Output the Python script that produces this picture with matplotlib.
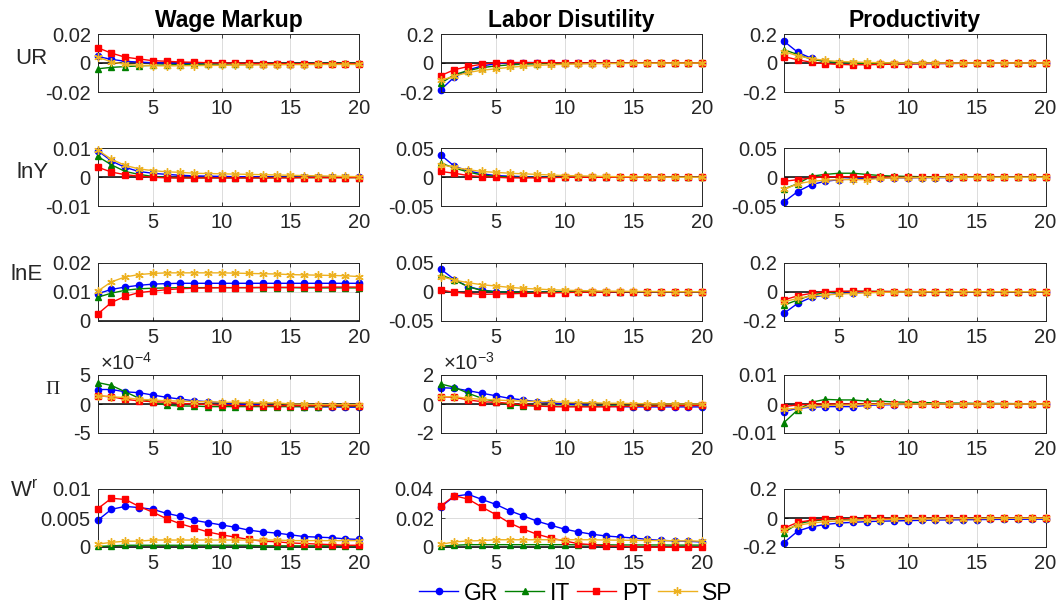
import numpy as np
import matplotlib
matplotlib.use('Agg')
import matplotlib.pyplot as plt
from matplotlib.ticker import FuncFormatter

plt.rcParams['font.family'] = ['Liberation Sans', 'DejaVu Sans']
plt.rcParams['axes.unicode_minus'] = False
plt.rcParams['mathtext.fontset'] = 'custom'
plt.rcParams['mathtext.rm'] = 'Liberation Sans'
plt.rcParams['mathtext.it'] = 'Liberation Sans:italic'

periods = np.arange(1, 21)
countries = ['GR', 'IT', 'PT', 'SP']
shocks = ['Wage Markup', 'Labor Disutility', 'Productivity']
variables = ['UR', 'lnY', 'lnE', 'Pi', 'Wr']

# ---- UR ----
ur_wm_gr = [0.0045, 0.0025, 0.0012, 0.0006, 0.0002, 0.0, -0.0002, -0.0003, -0.0004, -0.0005,
            -0.0005, -0.0005, -0.0005, -0.0005, -0.0005, -0.0005, -0.0005, -0.0005, -0.0005, -0.0005]
ur_wm_it = [-0.0040, -0.0030, -0.0025, -0.0020, -0.0016, -0.0013, -0.0011, -0.0009, -0.0008, -0.0007,
            -0.0006, -0.0005, -0.0005, -0.0004, -0.0004, -0.0004, -0.0004, -0.0003, -0.0003, -0.0003]
ur_wm_pt = [0.0105, 0.0068, 0.0040, 0.0028, 0.0016, 0.0012, 0.0007, 0.0005, 0.0002, 0.0,
            -0.0002, -0.0003, -0.0004, -0.0004, -0.0005, -0.0005, -0.0005, -0.0005, -0.0005, -0.0005]
ur_wm_sp = [0.0040, 0.0008, -0.0010, -0.0016, -0.0019, -0.0020, -0.0019, -0.0018, -0.0017, -0.0016,
            -0.0015, -0.0014, -0.0013, -0.0012, -0.0011, -0.0011, -0.0010, -0.0010, -0.0010, -0.0010]

ur_ld_gr = [-0.185, -0.096, -0.048, -0.020, -0.005, 0.002, 0.003, 0.003, 0.002, 0.002,
            0.001, 0.001, 0.001, 0.0, 0.0, 0.0, 0.0, 0.0, 0.0, 0.0]
ur_ld_it = [-0.140, -0.080, -0.052, -0.032, -0.020, -0.013, -0.008, -0.005, -0.003, -0.002,
            -0.001, 0.0, 0.0, 0.0, 0.0, 0.0, 0.0, 0.0, 0.0, 0.0]
ur_ld_pt = [-0.087, -0.046, -0.024, -0.008, 0.002, 0.003, 0.003, 0.002, 0.002, 0.001,
            0.001, 0.0, 0.0, 0.0, 0.0, 0.0, 0.0, 0.0, 0.0, 0.0]
ur_ld_sp = [-0.120, -0.090, -0.065, -0.050, -0.040, -0.030, -0.022, -0.017, -0.012, -0.009,
            -0.007, -0.005, -0.004, -0.003, -0.002, -0.002, -0.001, -0.001, -0.001, 0.0]

ur_pr_gr = [0.150, 0.074, 0.032, 0.010, 0.0, -0.005, -0.008, -0.008, -0.007, -0.006,
            -0.005, -0.004, -0.003, -0.002, -0.002, -0.001, -0.001, -0.001, 0.0, 0.0]
ur_pr_it = [0.092, 0.058, 0.026, 0.010, 0.002, -0.002, -0.003, -0.003, -0.003, -0.002,
            -0.002, -0.001, -0.001, 0.0, 0.0, 0.0, 0.0, 0.0, 0.0, 0.0]
ur_pr_pt = [0.044, 0.022, 0.005, -0.005, -0.010, -0.012, -0.012, -0.010, -0.008, -0.006,
            -0.005, -0.004, -0.003, -0.002, -0.002, -0.001, -0.001, 0.0, 0.0, 0.0]
ur_pr_sp = [0.078, 0.050, 0.030, 0.018, 0.010, 0.007, 0.004, 0.002, 0.001, 0.0,
            0.0, 0.0, 0.0, 0.0, 0.0, 0.0, 0.0, 0.0, 0.0, 0.0]

# ---- lnY ----
lny_wm_gr = [0.0092, 0.0056, 0.0034, 0.0020, 0.0014, 0.0010, 0.0007, 0.0005, 0.0004, 0.0003,
             0.0002, 0.0002, 0.0001, 0.0001, 0.0001, 0.0, 0.0, 0.0, 0.0, 0.0]
lny_wm_it = [0.0072, 0.0043, 0.0020, 0.0010, 0.0003, -0.0001, -0.0002, -0.0002, -0.0002, -0.0002,
             -0.0002, -0.0002, -0.0002, -0.0001, -0.0001, -0.0001, -0.0001, -0.0001, -0.0001, -0.0001]
lny_wm_pt = [0.0035, 0.0018, 0.0009, 0.0004, 0.0, -0.0002, -0.0002, -0.0002, -0.0002, -0.0002,
             -0.0002, -0.0002, -0.0002, -0.0002, -0.0002, -0.0001, -0.0001, -0.0001, -0.0001, -0.0001]
lny_wm_sp = [0.0094, 0.0062, 0.0041, 0.0029, 0.0023, 0.0019, 0.0017, 0.0014, 0.0013, 0.0012,
             0.0011, 0.0010, 0.0009, 0.0008, 0.0007, 0.0006, 0.0005, 0.0004, 0.0003, 0.0002]

lny_ld_gr = [0.0386, 0.019, 0.011, 0.006, 0.003, 0.002, 0.001, 0.0005, 0.0, 0.0,
             0.0, 0.0, 0.0, 0.0, 0.0, 0.0, 0.0, 0.0, 0.0, 0.0]
lny_ld_it = [0.0245, 0.016, 0.009, 0.004, 0.0015, 0.0005, 0.0, 0.0, 0.0, 0.0,
             0.0, 0.0, 0.0, 0.0, 0.0, 0.0, 0.0, 0.0, 0.0, 0.0]
lny_ld_pt = [0.010, 0.007, 0.003, 0.001, 0.0, -0.001, -0.001, -0.001, -0.0005, 0.0,
             0.0, 0.0, 0.0, 0.0, 0.0, 0.0, 0.0, 0.0, 0.0, 0.0]
lny_ld_sp = [0.022, 0.017, 0.013, 0.010, 0.0085, 0.007, 0.006, 0.005, 0.004, 0.003,
             0.0025, 0.002, 0.0015, 0.001, 0.001, 0.0005, 0.0005, 0.0, 0.0, 0.0]

lny_pr_gr = [-0.0425, -0.0245, -0.0125, -0.007, -0.004, -0.003, -0.002, -0.0015, -0.001, -0.001,
             -0.0005, -0.0005, -0.0005, 0.0, 0.0, 0.0, 0.0, 0.0, 0.0, 0.0]
lny_pr_it = [-0.020, -0.011, 0.002, 0.005, 0.007, 0.007, 0.005, 0.003, 0.002, 0.0015,
             0.001, 0.001, 0.0005, 0.0005, 0.0, 0.0, 0.0, 0.0, 0.0, 0.0]
lny_pr_pt = [-0.007, -0.004, -0.001, 0.001, 0.001, 0.001, 0.001, 0.0005, 0.0, 0.0,
             0.0, 0.0, 0.0, 0.0, 0.0, 0.0, 0.0, 0.0, 0.0, 0.0]
lny_pr_sp = [-0.021, -0.011, -0.007, -0.005, -0.004, -0.004, -0.004, -0.002, -0.001, -0.001,
             -0.0005, -0.0005, 0.0, 0.0, 0.0, 0.0, 0.0, 0.0, 0.0, 0.0]

# ---- lnE ----
lne_wm_gr = [0.0093, 0.0108, 0.0116, 0.0122, 0.0126, 0.0128, 0.0129, 0.0129, 0.0129, 0.0129,
             0.0129, 0.0129, 0.0129, 0.0129, 0.0129, 0.0129, 0.0129, 0.0129, 0.0129, 0.0129]
lne_wm_it = [0.0081, 0.0095, 0.0105, 0.0110, 0.0112, 0.0113, 0.0114, 0.0114, 0.0114, 0.0114,
             0.0114, 0.0114, 0.0114, 0.0114, 0.0114, 0.0113, 0.0113, 0.0113, 0.0113, 0.0113]
lne_wm_pt = [0.0023, 0.0063, 0.0084, 0.0097, 0.0102, 0.0107, 0.0110, 0.0112, 0.0113, 0.0114,
             0.0114, 0.0114, 0.0115, 0.0115, 0.0115, 0.0115, 0.0115, 0.0116, 0.0116, 0.0116]
lne_wm_sp = [0.0102, 0.0134, 0.0151, 0.0159, 0.0163, 0.0165, 0.0165, 0.0165, 0.0165, 0.0165,
             0.0164, 0.0163, 0.0162, 0.0161, 0.0159, 0.0158, 0.0157, 0.0156, 0.0155, 0.0152]

lne_ld_gr = [0.039, 0.021, 0.0086, 0.003, 0.0, -0.001, -0.001, -0.001, -0.0008, -0.0005,
             -0.0003, 0.0, 0.0, 0.0, 0.0, 0.0, 0.0, 0.0, 0.0, 0.0]
lne_ld_it = [0.029, 0.020, 0.0086, 0.002, 0.0, -0.001, -0.001, -0.0008, -0.0005, -0.0003,
             0.0, 0.0, 0.0, 0.0, 0.0, 0.0, 0.0, 0.0, 0.0, 0.0]
lne_ld_pt = [0.003, -0.001, -0.003, -0.0046, -0.004, -0.0035, -0.003, -0.0025, -0.002, -0.0015,
             -0.001, -0.0008, -0.0005, -0.0003, 0.0, 0.0, 0.0, 0.0, 0.0, 0.0]
lne_ld_sp = [0.026, 0.020, 0.0155, 0.012, 0.0098, 0.0075, 0.0057, 0.0046, 0.0034, 0.0025,
             0.002, 0.0015, 0.001, 0.0008, 0.0005, 0.0003, 0.0002, 0.0, 0.0, 0.0]

lne_pr_gr = [-0.149, -0.080, -0.039, -0.023, -0.012, -0.006, -0.004, -0.002, -0.001, 0.0,
             0.0, 0.0, 0.0, 0.0, 0.0, 0.0, 0.0, 0.0, 0.0, 0.0]
lne_pr_it = [-0.092, -0.057, -0.023, -0.007, 0.0, 0.003, 0.003, 0.002, 0.001, 0.001,
             0.0, 0.0, 0.0, 0.0, 0.0, 0.0, 0.0, 0.0, 0.0, 0.0]
lne_pr_pt = [-0.057, -0.028, -0.011, 0.0, 0.003, 0.003, 0.002, 0.001, 0.001, 0.0,
             0.0, 0.0, 0.0, 0.0, 0.0, 0.0, 0.0, 0.0, 0.0, 0.0]
lne_pr_sp = [-0.069, -0.046, -0.030, -0.023, -0.016, -0.012, -0.008, -0.005, -0.003, -0.002,
             -0.001, 0.0, 0.0, 0.0, 0.0, 0.0, 0.0, 0.0, 0.0, 0.0]

# ---- Pi (wage markup in 1e-4, labor disutility in 1e-3) ----
pi_wm_gr = [2.5, 2.5, 2.1, 1.95, 1.55, 1.15, 0.85, 0.55, 0.4, 0.2,
            0.0, -0.1, -0.2, -0.3, -0.4, -0.45, -0.5, -0.5, -0.55, -0.55]
pi_wm_it = [3.7, 3.2, 2.1, 1.0, 0.3, -0.2, -0.35, -0.35, -0.45, -0.45,
            -0.45, -0.45, -0.45, -0.45, -0.45, -0.45, -0.45, -0.4, -0.4, -0.4]
pi_wm_pt = [1.4, 1.25, 0.8, 0.55, 0.4, 0.3, 0.1, 0.0, -0.1, -0.2,
            -0.25, -0.3, -0.3, -0.3, -0.3, -0.3, -0.3, -0.3, -0.3, -0.3]
pi_wm_sp = [1.4, 1.25, 1.1, 0.8, 0.7, 0.55, 0.5, 0.4, 0.4, 0.3,
            0.3, 0.2, 0.2, 0.2, 0.0, -0.05, -0.1, -0.1, -0.1, -0.1]

pi_ld_gr = [1.13, 1.08, 0.92, 0.74, 0.57, 0.39, 0.28, 0.16, 0.09, 0.0,
            -0.05, -0.1, -0.15, -0.18, -0.2, -0.2, -0.2, -0.2, -0.2, -0.2]
pi_ld_it = [1.38, 1.15, 0.74, 0.39, 0.16, -0.07, -0.11, -0.14, -0.15, -0.15,
            -0.15, -0.15, -0.14, -0.13, -0.12, -0.12, -0.11, -0.1, -0.1, -0.1]
pi_ld_pt = [0.5, 0.46, 0.28, 0.16, 0.11, 0.05, -0.07, -0.14, -0.18, -0.2,
            -0.2, -0.2, -0.2, -0.18, -0.16, -0.15, -0.14, -0.12, -0.11, -0.1]
pi_ld_sp = [0.5, 0.5, 0.39, 0.32, 0.28, 0.23, 0.2, 0.16, 0.16, 0.12,
            0.09, 0.09, 0.05, 0.05, 0.03, 0.02, 0.0, 0.0, 0.0, 0.0]

pi_pr_gr = [-0.0026, -0.0015, -0.0011, -0.0009, -0.0009, -0.0009, -0.0005, -0.0003, -0.0002, -0.0001,
            0.0, 0.0, 0.0, 0.0, 0.0, 0.0, 0.0, 0.0, 0.0, 0.0]
pi_pr_it = [-0.0064, -0.0020, 0.0006, 0.0016, 0.0014, 0.0014, 0.0010, 0.0010, 0.0007, 0.0006,
            0.0005, 0.0004, 0.0003, 0.0003, 0.0002, 0.0002, 0.0002, 0.0001, 0.0001, 0.0001]
pi_pr_pt = [-0.0009, -0.0003, -0.0001, 0.0, 0.0, 0.0, 0.0, 0.0, 0.0, 0.0,
            0.0, 0.0, 0.0, 0.0, 0.0, 0.0, 0.0, 0.0, 0.0, 0.0]
pi_pr_sp = [-0.0018, -0.0015, -0.0007, -0.0005, -0.0004, -0.0003, -0.0002, -0.0001, 0.0, 0.0,
            0.0, 0.0, 0.0, 0.0, 0.0, 0.0, 0.0, 0.0, 0.0, 0.0]

# ---- real wage ----
wr_wm_gr = [0.0046, 0.0065, 0.0070, 0.0068, 0.0065, 0.0058, 0.0053, 0.0046, 0.0042, 0.0038,
            0.0034, 0.0029, 0.0026, 0.0024, 0.0021, 0.0018, 0.0017, 0.0016, 0.0014, 0.0013]
wr_wm_it = [0.0001, 0.0002, 0.0003, 0.0003, 0.0003, 0.0003, 0.0003, 0.0003, 0.0003, 0.0003,
            0.0003, 0.0003, 0.0002, 0.0002, 0.0002, 0.0002, 0.0002, 0.0002, 0.0002, 0.0002]
wr_wm_pt = [0.0066, 0.0084, 0.0082, 0.0070, 0.0060, 0.0049, 0.0040, 0.0033, 0.0026, 0.0021,
            0.0017, 0.0013, 0.0010, 0.0009, 0.0007, 0.0006, 0.0005, 0.0004, 0.0003, 0.0003]
wr_wm_sp = [0.0005, 0.0008, 0.0010, 0.0010, 0.0012, 0.0012, 0.0012, 0.0012, 0.0012, 0.0012,
            0.0012, 0.0012, 0.0012, 0.0012, 0.0011, 0.0011, 0.0011, 0.0011, 0.0011, 0.0011]

wr_ld_gr = [0.0277, 0.0350, 0.0363, 0.0328, 0.0294, 0.0250, 0.0215, 0.0178, 0.0150, 0.0123,
            0.0104, 0.0088, 0.0076, 0.0069, 0.0062, 0.0053, 0.0046, 0.0042, 0.0039, 0.0035]
wr_ld_it = [0.0005, 0.0012, 0.0016, 0.0016, 0.0016, 0.0016, 0.0016, 0.0016, 0.0016, 0.0016,
            0.0015, 0.0015, 0.0015, 0.0014, 0.0014, 0.0014, 0.0014, 0.0013, 0.0013, 0.0013]
wr_ld_pt = [0.0282, 0.0354, 0.0330, 0.0275, 0.0224, 0.0166, 0.0123, 0.0088, 0.0062, 0.0042,
            0.0023, 0.0016, 0.0007, 0.0005, 0.0001, -0.0001, -0.0002, -0.0002, -0.0002, -0.0002]
wr_ld_sp = [0.0018, 0.0035, 0.0042, 0.0044, 0.0050, 0.0050, 0.0050, 0.0050, 0.0050, 0.0050,
            0.0050, 0.0050, 0.0048, 0.0047, 0.0046, 0.0045, 0.0044, 0.0043, 0.0042, 0.0040]

wr_pr_gr = [-0.170, -0.090, -0.060, -0.045, -0.035, -0.030, -0.025, -0.022, -0.020, -0.018,
            -0.016, -0.014, -0.013, -0.012, -0.011, -0.010, -0.009, -0.009, -0.008, -0.008]
wr_pr_it = [-0.100, -0.040, -0.020, -0.012, -0.008, -0.006, -0.005, -0.004, -0.003, -0.003,
            -0.002, -0.002, -0.002, -0.001, -0.001, -0.001, -0.001, -0.001, -0.001, -0.001]
wr_pr_pt = [-0.070, -0.030, -0.015, -0.008, -0.005, -0.004, -0.003, -0.003, -0.002, -0.002,
            -0.002, -0.001, -0.001, -0.001, -0.001, -0.001, 0.0, 0.0, 0.0, 0.0]
wr_pr_sp = [-0.080, -0.050, -0.035, -0.025, -0.020, -0.016, -0.013, -0.011, -0.009, -0.008,
            -0.007, -0.006, -0.005, -0.004, -0.004, -0.003, -0.003, -0.002, -0.002, -0.002]

# panel grid: rows = variables, cols = shocks
panels = [
    [[ur_wm_gr, ur_wm_it, ur_wm_pt, ur_wm_sp], [ur_ld_gr, ur_ld_it, ur_ld_pt, ur_ld_sp],
     [ur_pr_gr, ur_pr_it, ur_pr_pt, ur_pr_sp]],
    [[lny_wm_gr, lny_wm_it, lny_wm_pt, lny_wm_sp], [lny_ld_gr, lny_ld_it, lny_ld_pt, lny_ld_sp],
     [lny_pr_gr, lny_pr_it, lny_pr_pt, lny_pr_sp]],
    [[lne_wm_gr, lne_wm_it, lne_wm_pt, lne_wm_sp], [lne_ld_gr, lne_ld_it, lne_ld_pt, lne_ld_sp],
     [lne_pr_gr, lne_pr_it, lne_pr_pt, lne_pr_sp]],
    [[pi_wm_gr, pi_wm_it, pi_wm_pt, pi_wm_sp], [pi_ld_gr, pi_ld_it, pi_ld_pt, pi_ld_sp],
     [pi_pr_gr, pi_pr_it, pi_pr_pt, pi_pr_sp]],
    [[wr_wm_gr, wr_wm_it, wr_wm_pt, wr_wm_sp], [wr_ld_gr, wr_ld_it, wr_ld_pt, wr_ld_sp],
     [wr_pr_gr, wr_pr_it, wr_pr_pt, wr_pr_sp]],
]
yticks = [
    [[-0.02, 0, 0.02], [-0.2, 0, 0.2], [-0.2, 0, 0.2]],
    [[-0.01, 0, 0.01], [-0.05, 0, 0.05], [-0.05, 0, 0.05]],
    [[0, 0.01, 0.02], [-0.05, 0, 0.05], [-0.2, 0, 0.2]],
    [[-5, 0, 5], [-2, 0, 2], [-0.01, 0, 0.01]],
    [[0, 0.005, 0.01], [0, 0.02, 0.04], [-0.2, 0, 0.2]],
]
exponents = {(3, 0): '-4', (3, 1): '-3'}

colors = ['#0000ff', '#008000', '#ff0000', '#edb120']
markers = ['o', '^', 's', (6, 2, 0)]
msizes = [4.5, 5, 4.2, 6]

W, H = 1059, 606
lefts = [97.7, 440.7, 784]
tops = [34, 148.3, 262.7, 375, 489]
aw, ah = 261.5, 58

fig = plt.figure(figsize=(W / 100, H / 100), dpi=100)
fmt = FuncFormatter(lambda v, p: '%g' % v)
handles = []

for r in range(5):
    for c in range(3):
        ax = fig.add_axes([lefts[c] / W, 1 - (tops[r] + ah) / H, aw / W, ah / H])
        ax.axhline(0, color='k', lw=1.1, zorder=1)
        for k in range(4):
            ln, = ax.plot(periods, panels[r][c][k], color=colors[k], marker=markers[k],
                          ms=msizes[k], mfc=colors[k], mec=colors[k], mew=1.0, lw=1.0,
                          clip_on=False, zorder=2 + k)
            if r == 0 and c == 0:
                handles.append(ln)
        t = yticks[r][c]
        ax.set_ylim(t[0], t[-1])
        ax.set_yticks(t)
        ax.yaxis.set_major_formatter(fmt)
        ax.set_xlim(1, 20)
        ax.set_xticks([5, 10, 15, 20])
        ax.grid(True, color='#dcdcdc', lw=0.7)
        ax.set_axisbelow(True)
        ax.tick_params(direction='in', top=True, right=True, length=3, width=0.6,
                       colors='#262626', labelsize=14.5)
        ax.tick_params(axis='x', pad=5)
        ax.tick_params(axis='y', pad=5)
        for s in ax.spines.values():
            s.set_color('#262626')
            s.set_linewidth(0.7)
        if (r, c) in exponents:
            ax.text(0.01, 1.02, '×10$^{' + exponents[(r, c)] + '}$', transform=ax.transAxes,
                    fontsize=14.5, color='#262626', ha='left', va='bottom')
        if r == 0:
            ax.set_title(shocks[c], fontsize=16.5, fontweight='bold', pad=5)

# row labels
fig.text(15 / W, 1 - 59 / H, 'UR', fontsize=16, color='#262626', ha='left', va='center')
fig.text(17 / W, 1 - 173 / H, 'lnY', fontsize=16, color='#262626', ha='left', va='center')
fig.text(11 / W, 1 - 275 / H, 'lnE', fontsize=16, color='#262626', ha='left', va='center')
fig.text(45 / W, 1 - 389 / H, 'Π', fontsize=14, color='#262626', ha='left', va='center',
         family=['Liberation Serif', 'DejaVu Serif'])
fig.text(10 / W, 1 - 491 / H, r'W$^{\mathrm{r}}$', fontsize=16, color='#262626',
         ha='left', va='center')

fig.legend(handles, countries, loc='center', bbox_to_anchor=(576 / W, 1 - 593 / H), ncol=4,
           frameon=False, fontsize=16.5, handlelength=1.7, handletextpad=0.25,
           columnspacing=0.3, borderpad=0.1)

fig.savefig('out.png', dpi=100)
